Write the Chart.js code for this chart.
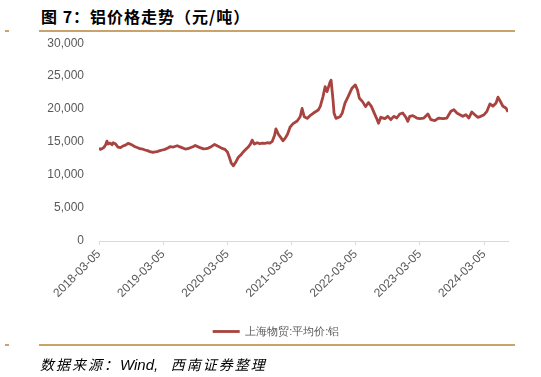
<!DOCTYPE html>
<html>
<head>
<meta charset="utf-8">
<script src="https://cdn.jsdelivr.net/npm/chart.js@4"></script>
<style>
    body { margin: 0; width: 541px; height: 377px; background: #fff; position: relative; overflow: hidden; }
    #title { position: absolute; left: 41px; top: 4px; line-height: 20px; font: bold 16px "Noto Sans CJK SC", sans-serif; letter-spacing: 1px; color: #000; white-space: nowrap; }
    .rule { position: absolute; left: 39px; width: 476px; height: 2px; background: #C9A46A; }
    .dash { position: absolute; left: 5px; width: 4px; height: 2px; background: #C9A46A; }
    #src { position: absolute; left: 40px; top: 354px; line-height: 18px; font: italic 14px "Noto Sans CJK SC", sans-serif; letter-spacing: 2px; color: #000; white-space: nowrap; }
    #src span { font-family: "Liberation Sans", Arial, sans-serif; font-size: 15px; letter-spacing: 0; }
    #wrap { position: absolute; left: 0; top: 21px; width: 541px; height: 326px; }
</style>
</head>
<body>
<div id="title">图 7：铝价格走势（元/吨）</div>
<div class="dash" style="top:30px"></div>
<div class="rule" style="top:30px"></div>
<div id="wrap"><canvas id="chart"></canvas></div>
<div class="dash" style="top:344px"></div>
<div class="rule" style="top:344px"></div>
<div id="src">数据来源：<span>Wind,&nbsp;&nbsp;&nbsp;</span>西南证券整理</div>

<script>
// 系列名稱
const SERIES_NAME = '上海物贸:平均价:铝';

// 日期 (讀圖估計)
const DATES = [
    '2018-03-05','2018-03-12','2018-03-23','2018-04-02','2018-04-12','2018-04-19','2018-04-26','2018-05-07','2018-05-18','2018-05-25',
    '2018-06-08','2018-06-21','2018-07-05','2018-07-19','2018-08-03','2018-08-17','2018-09-03','2018-09-26','2018-10-12','2018-10-24',
    '2018-11-08','2018-11-22','2018-12-06','2018-12-20','2019-01-06','2019-01-18','2019-01-29','2019-02-15','2019-03-01','2019-03-15',
    '2019-04-01','2019-04-13','2019-05-02','2019-05-24','2019-06-16','2019-07-09','2019-07-24','2019-08-06','2019-08-22','2019-09-04',
    '2019-09-27','2019-10-21','2019-11-05','2019-11-18','2019-12-06','2019-12-23','2020-01-09','2020-01-20','2020-02-03','2020-02-20',
    '2020-03-05','2020-03-16','2020-03-27','2020-04-08','2020-04-20','2020-05-06','2020-05-22','2020-06-03','2020-06-18','2020-07-03',
    '2020-07-13','2020-07-24','2020-08-05','2020-08-22','2020-09-05','2020-09-19','2020-10-05','2020-10-18','2020-11-02','2020-11-15',
    '2020-11-28','2020-12-06','2020-12-20','2021-01-05','2021-01-15','2021-01-28','2021-02-10','2021-02-25','2021-03-14','2021-04-06',
    '2021-04-23','2021-05-04','2021-05-16','2021-06-02','2021-06-18','2021-07-06','2021-08-04','2021-08-15','2021-08-31','2021-09-12',
    '2021-09-23','2021-10-10','2021-10-16','2021-10-27','2021-11-02','2021-11-13','2021-12-06','2021-12-18','2022-01-03','2022-01-21',
    '2022-02-12','2022-03-03','2022-03-15','2022-03-26','2022-04-13','2022-04-30','2022-05-17','2022-06-03','2022-06-15','2022-07-02',
    '2022-07-13','2022-07-26','2022-08-18','2022-09-04','2022-09-21','2022-10-08','2022-10-25','2022-11-11','2022-11-28','2022-12-16',
    '2022-12-27','2023-01-07','2023-01-24','2023-02-16','2023-03-05','2023-03-28','2023-04-20','2023-05-07','2023-05-29','2023-06-21',
    '2023-07-14','2023-08-06','2023-08-29','2023-09-15','2023-10-02','2023-10-19','2023-11-05','2023-11-22','2023-12-09','2023-12-26',
    '2024-01-12','2024-01-29','2024-02-15','2024-03-05','2024-03-21','2024-04-07','2024-04-24','2024-05-12','2024-05-23','2024-06-09',
    '2024-06-20','2024-07-07','2024-07-19'
];

// 價格 (元/吨)
const PRICES = [
    14100,13900,14000,14200,14600,15150,14700,14850,14600,14900,
    14700,14250,14150,14400,14550,14800,14650,14300,14150,14000,
    13950,13800,13700,13550,13430,13500,13550,13700,13800,13900,
    14100,14300,14250,14450,14200,13950,14000,14150,14300,14500,
    14200,13980,14000,14100,14350,14650,14400,14250,14050,13900,
    13500,12700,11800,11400,11900,12700,13100,13500,13900,14300,
    14650,15300,14700,14900,14750,14850,14800,14900,14850,15100,
    16000,17000,16200,15600,15200,15600,16200,17300,17800,18200,
    18850,20100,18850,18600,19000,19370,19870,20380,21900,23400,
    22660,24100,24400,21400,19370,18600,18850,19370,20900,21900,
    23180,23680,22920,21650,21140,20380,21000,20380,19620,18600,
    17850,18760,18550,18910,18400,18910,18650,19260,19420,18760,
    18150,18910,19010,18650,18550,18650,19260,18400,18250,18650,
    18550,18650,19670,19920,19420,19160,18910,19160,18650,19570,
    19160,18760,18910,19160,19670,20790,20440,20940,21810,21000,
    20440,20180,19570
];

// x 軸刻度
const TICK_LABELS = ['2018-03-05','2019-03-05','2020-03-05','2021-03-05','2022-03-05','2023-03-05','2024-03-05'];

// y 軸
const Y_MIN = 0, Y_MAX = 30000, Y_STEP = 5000;

const LINE_COLOR = '#A8433F';
const AXIS_COLOR = '#D9D9D9';
const TEXT_COLOR = '#595959';
const FONT_FAMILY = "'Liberation Sans', Arial, sans-serif";

const DAY = 86400000;
const T0 = Date.parse(TICK_LABELS[0]);
const toDay = s => (Date.parse(s) - T0) / DAY;
const toLabel = v => new Date(T0 + v * DAY).toISOString().slice(0, 10);

function initChart() {
    const ctx = document.getElementById('chart');
    new Chart(ctx, {
        type: 'line',
        data: {
            datasets: [{
                label: SERIES_NAME,
                data: DATES.map((d, i) => ({ x: toDay(d), y: PRICES[i] })),
                borderColor: LINE_COLOR,
                backgroundColor: LINE_COLOR,
                borderWidth: 2.8,
                borderJoinStyle: 'round',
                pointRadius: 0,
                tension: 0
            }]
        },
        options: {
            responsive: true,
            maintainAspectRatio: false,
            animation: false,
            layout: { padding: { top: 8, right: 33, left: 44, bottom: 0 } },
            plugins: {
                tooltip: { enabled: false },
                legend: {
                    position: 'bottom',
                    labels: {
                        usePointStyle: true,
                        pointStyle: 'line',
                        pointStyleWidth: 27,
                        boxHeight: 11,
                        padding: 10,
                        color: TEXT_COLOR,
                        font: { family: FONT_FAMILY, size: 11 }
                    }
                }
            },
            scales: {
                x: {
                    type: 'linear',
                    min: 0,
                    max: toDay(DATES[DATES.length - 1]),
                    afterBuildTicks: scale => {
                        scale.ticks = TICK_LABELS.map(s => ({ value: toDay(s) }));
                    },
                    afterFit: scale => { scale.height = 75; },
                    ticks: {
                        autoSkip: false,
                        minRotation: 45,
                        maxRotation: 45,
                        padding: 2,
                        color: TEXT_COLOR,
                        font: { family: FONT_FAMILY, size: 12 },
                        callback: v => toLabel(v)
                    },
                    grid: { display: true, drawOnChartArea: false, tickLength: 4, color: AXIS_COLOR },
                    border: { display: true, color: AXIS_COLOR, width: 1 }
                },
                y: {
                    min: Y_MIN,
                    max: Y_MAX,
                    afterFit: scale => { scale.width = 55; },
                    ticks: {
                        stepSize: Y_STEP,
                        padding: 15,
                        color: TEXT_COLOR,
                        font: { family: FONT_FAMILY, size: 12 },
                        callback: v => v.toLocaleString('en-US')
                    },
                    grid: { display: false, drawTicks: false },
                    border: { display: false }
                }
            }
        }
    });
}

window.onload = initChart;
</script>
</body>
</html>
